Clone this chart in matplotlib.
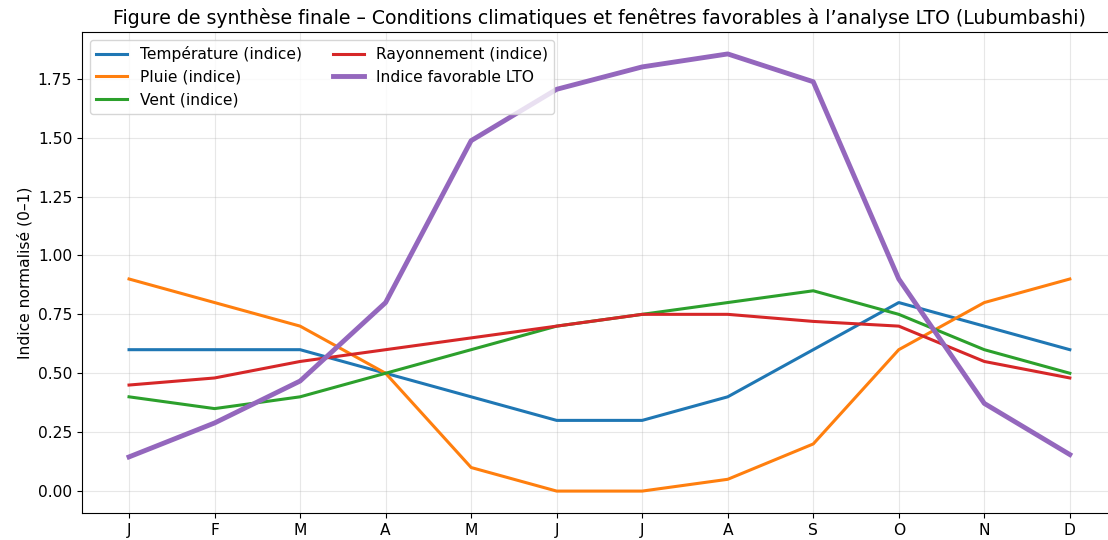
import matplotlib.pyplot as plt
import numpy as np

# Mois (initiales)
mois = ["J", "F", "M", "A", "M", "J", "J", "A", "S", "O", "N", "D"]

# Indices normalisés
temperature = [0.60, 0.60, 0.60, 0.50, 0.40, 0.30, 0.30, 0.40, 0.60, 0.80, 0.70, 0.60]
pluie = [0.90, 0.80, 0.70, 0.50, 0.10, 0.00, 0.00, 0.05, 0.20, 0.60, 0.80, 0.90]
vent = [0.40, 0.35, 0.40, 0.50, 0.60, 0.70, 0.75, 0.80, 0.85, 0.75, 0.60, 0.50]
rayonnement = [0.45, 0.48, 0.55, 0.60, 0.65, 0.70, 0.75, 0.75, 0.72, 0.70, 0.55, 0.48]
indice_lto = [0.145, 0.289, 0.467, 0.80, 1.487, 1.705, 1.80, 1.855, 1.737, 0.90, 0.372, 0.155]

x = np.arange(len(mois))

plt.rcParams["font.size"] = 11.2

fig, ax = plt.subplots(figsize=(11.08, 5.4), dpi=100)

ax.plot(x, temperature, color="tab:blue", lw=2.2, label="Température (indice)")
ax.plot(x, pluie, color="tab:orange", lw=2.2, label="Pluie (indice)")
ax.plot(x, vent, color="tab:green", lw=2.2, label="Vent (indice)")
ax.plot(x, rayonnement, color="tab:red", lw=2.2, label="Rayonnement (indice)")
ax.plot(x, indice_lto, color="tab:purple", lw=3.5, label="Indice favorable LTO")

ax.set_xticks(x)
ax.set_xticklabels(mois)
ax.set_xlim(-0.55, 11.55)
ax.set_ylim(-0.093, 1.948)
ax.set_ylabel("Indice normalisé (0–1)")
ax.set_title("Figure de synthèse finale – Conditions climatiques et fenêtres favorables à l’analyse LTO (Lubumbashi)",
             fontsize=13.6)
ax.grid(True, alpha=0.3)
ax.legend(loc="upper left", ncol=2, fontsize=11.2)

fig.subplots_adjust(left=0.074, right=1.008, top=0.9407, bottom=0.05)
fig.savefig("out.png")
